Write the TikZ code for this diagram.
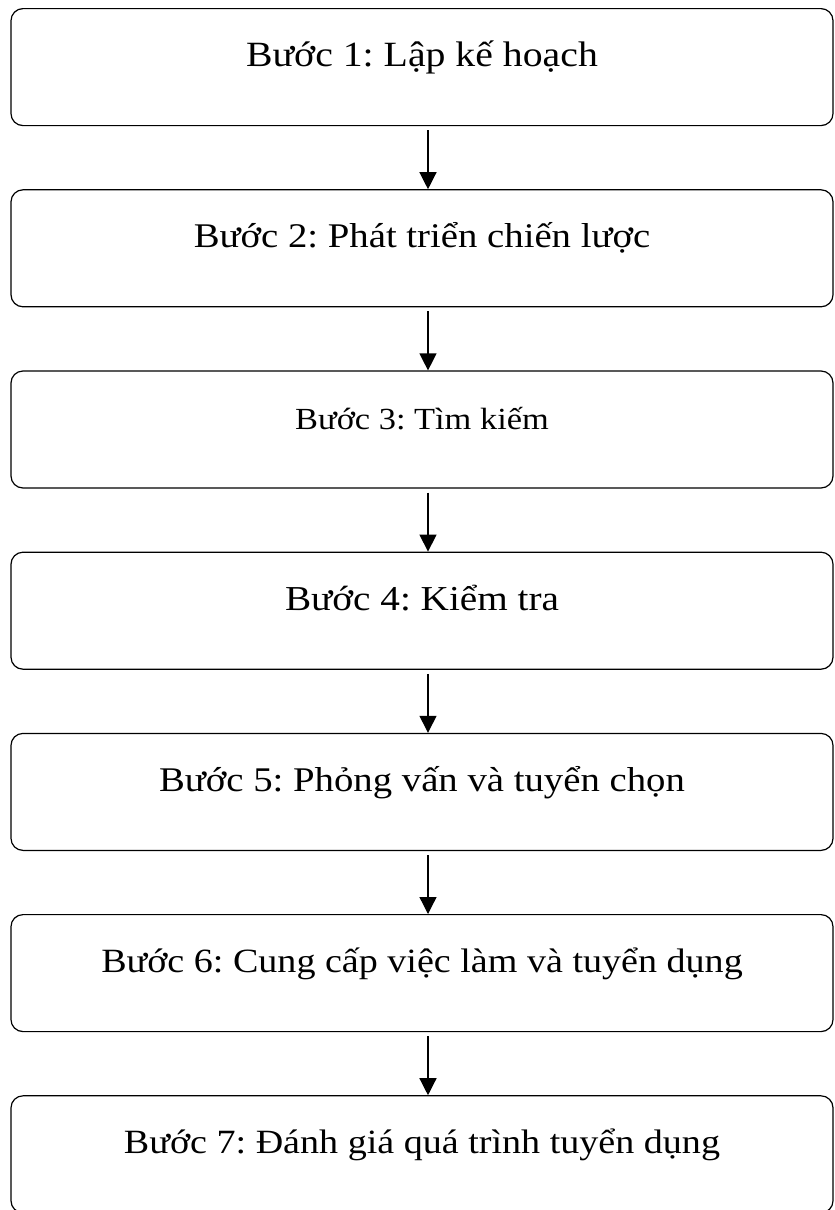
\documentclass[tikz,border=0pt]{standalone}
\usepackage{fontspec}
\setmainfont{Liberation Serif}[FakeStretch=1.12]
\usepackage{tikz}
\usetikzlibrary{arrows.meta, positioning}
\frenchspacing

\begin{document}
\begin{tikzpicture}[
    x=1pt, y=1pt,
    node distance=63pt,
    stepbox/.style={rectangle, draw, line width=1.2pt, rounded corners=12pt, minimum width=822pt,
        inner sep=0pt, text height=58pt, text depth=59pt, align=center, font=\fontsize{#1}{#1}\selectfont},
    stepbox/.default=34,
    line/.style={-{Triangle[length=17pt, width=17pt]}, line width=1.3pt}
]
\useasboundingbox (0,0) rectangle (835,-1210);

% Nodes
\node[stepbox=35.5, anchor=north] (plan) at (422,-8) {Bước 1: Lập kế hoạch};
\node[stepbox=34.6, below=of plan] (strategy) {Bước 2: Phát triển chiến lược};
\node[stepbox=30.7, below=of strategy] (search) {Bước 3: Tìm kiếm};
\node[stepbox=35, below=of search] (check) {Bước 4: Kiểm tra};
\node[stepbox=34.6, below=of check] (interview) {Bước 5: Phỏng vấn và tuyển chọn};
\node[stepbox, below=of interview] (offer) {Bước 6: Cung cấp việc làm và tuyển dụng};
\node[stepbox, below=of offer] (review) {Bước 7: Đánh giá quá trình tuyển dụng};

% Connections
\draw[line] ([xshift=6pt, yshift=-4pt]plan.south) -- ([xshift=6pt]strategy.north);
\draw[line] ([xshift=6pt, yshift=-4pt]strategy.south) -- ([xshift=6pt]search.north);
\draw[line] ([xshift=6pt, yshift=-4pt]search.south) -- ([xshift=6pt]check.north);
\draw[line] ([xshift=6pt, yshift=-4pt]check.south) -- ([xshift=6pt]interview.north);
\draw[line] ([xshift=6pt, yshift=-4pt]interview.south) -- ([xshift=6pt]offer.north);
\draw[line] ([xshift=6pt, yshift=-4pt]offer.south) -- ([xshift=6pt]review.north);

\end{tikzpicture}
\end{document}
